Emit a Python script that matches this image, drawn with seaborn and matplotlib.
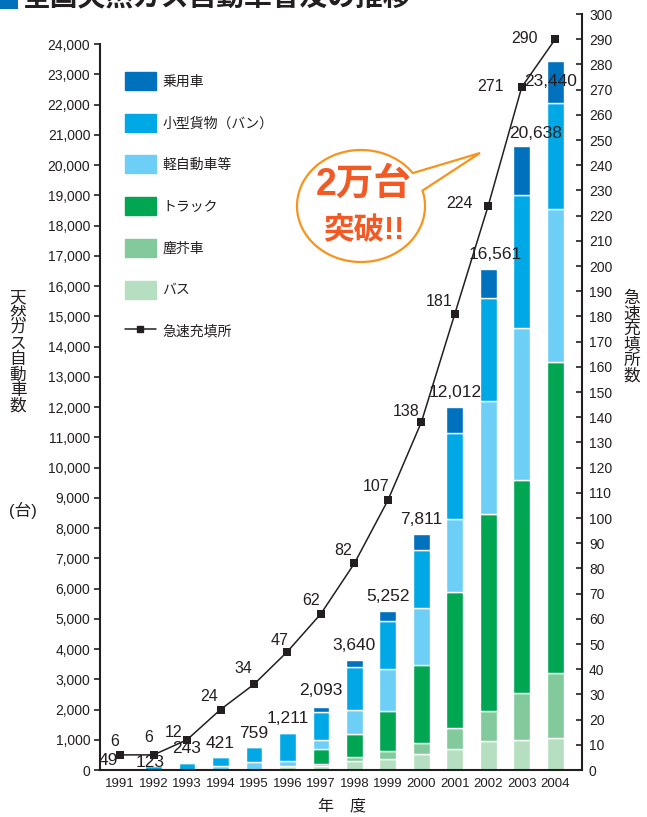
import numpy as np
import seaborn as sns
import matplotlib.pyplot as plt
from matplotlib.patches import Patch, Polygon, Rectangle
from matplotlib.lines import Line2D

# データ（年度別 天然ガス自動車台数・急速充填所数）
years = [str(y) for y in range(1991, 2005)]
bus = [0, 0, 0, 0, 0, 140, 119, 296, 353, 528, 700, 950, 1000, 1050]
garbage = [0, 0, 0, 0, 0, 0, 86, 137, 265, 371, 700, 990, 1560, 2170]
truck = [0, 0, 0, 0, 0, 0, 496, 751, 1324, 2562, 4500, 6510, 7030, 10260]
light = [0, 0, 0, 144, 258, 153, 291, 785, 1390, 1888, 2400, 3750, 5040, 5080]
van = [49, 123, 243, 277, 501, 918, 939, 1432, 1589, 1922, 2840, 3420, 4380, 3500]
car = [0, 0, 0, 0, 0, 0, 162, 239, 331, 540, 872, 941, 1628, 1380]
totals = [49, 123, 243, 421, 759, 1211, 2093, 3640, 5252, 7811, 12012, 16561, 20638, 23440]
stations = [6, 6, 12, 24, 34, 47, 62, 82, 107, 138, 181, 224, 271, 290]

W, H = 647, 817
dark = "#231f20"

sns.set_style("white")
plt.rcParams['font.family'] = ['Liberation Sans', 'Noto Sans CJK JP']

fig = plt.figure(figsize=(W / 100, H / 100), dpi=100)
ax = fig.add_axes([100 / W, 1 - 770 / H, 482 / W, 756 / H])

layers = [
    ("バス", bus, "#b5dfc0"),
    ("塵芥車", garbage, "#82ca9c"),
    ("トラック", truck, "#00a651"),
    ("軽自動車等", light, "#6dcff6"),
    ("小型貨物（バン）", van, "#00a9e6"),
    ("乗用車", car, "#0071bc"),
]
bottom = np.zeros(len(years))
for name, vals, col in layers:
    sns.barplot(x=years, y=vals, bottom=bottom, color=col, width=0.5,
                saturation=1, errorbar=None, ax=ax)
    bottom = bottom + np.array(vals)

# 台数ラベル
bar_off = [(-12, 8), (-3, 4), (0, 14), (0, 14), (0, 14), (0, 15), (0, 16),
           (0, 14), (0, 15), (0, 14), (0, 14), (7, 15), (14, 12), (-5, -20)]
for i, t in enumerate(totals):
    ax.annotate(f"{t:,}", (i, t), xytext=bar_off[i], textcoords='offset pixels',
                ha='center', va='center', fontsize=12.5, color=dark)

ax2 = ax.twinx()
sns.lineplot(x=np.arange(len(years)), y=stations, ax=ax2, color=dark,
             marker='s', markersize=6, markeredgewidth=0, lw=1.1)

line_off = [(-5, 13), (-5, 17), (-13, 7), (-11, 13), (-11, 16), (-8, 11),
            (-10, 13), (-11, 13), (-12, 14), (-15, 11), (-16, 12), (-29, 2),
            (-31, 1), (-31, 1)]
for i, s in enumerate(stations):
    ax2.annotate(str(s), (i, s), xytext=line_off[i], textcoords='offset pixels',
                 ha='center', va='center', fontsize=11.5, color=dark)

# 軸
ax.set_xlim(-0.6, 13.8)
ax.set_ylim(0, 25000)
ax2.set_ylim(0, 300)
ax.set_xlabel("")
ax.set_ylabel("")

yt = list(range(0, 24001, 1000))
ax.set_yticks(yt, [f"{v:,}" for v in yt])
ax.tick_params(axis='y', direction='out', length=4, width=1.2, labelsize=10,
               pad=3, colors=dark)
ax.set_xticks(range(len(years)), years)
ax.tick_params(axis='x', which='major', length=0, pad=6, labelsize=9.5, colors=dark)
ax.set_xticks(np.arange(0.5, 13, 1), minor=True)
ax.tick_params(axis='x', which='minor', direction='in', length=5, width=1.2, color=dark)

ax2.set_yticks(range(0, 301, 10))
ax2.tick_params(axis='y', direction='in', length=4, width=1.2, labelsize=10,
                pad=5, colors=dark)

for sp in ["top", "right"]:
    ax.spines[sp].set_visible(False)
for sp in ["top", "left", "bottom"]:
    ax2.spines[sp].set_visible(False)
ax.spines["left"].set_bounds(0, 24000)
for sp in [ax.spines["left"], ax.spines["bottom"], ax2.spines["right"]]:
    sp.set_linewidth(1.5)
    sp.set_color(dark)

# 凡例
handles = [Patch(color=c, label=n) for n, v, c in layers[::-1]]
handles.append(Line2D([], [], color=dark, marker='s', markersize=5, lw=1.1,
                      label="急速充填所"))
leg = ax2.legend(handles=handles, loc='upper left',
                 bbox_to_anchor=(125 / W, 1 - 72 / H), bbox_transform=fig.transFigure,
                 fontsize=10, handlelength=2.2, handleheight=1.6, labelspacing=1.72,
                 handletextpad=0.5, frameon=False, borderpad=0, borderaxespad=0)
for t in leg.get_texts():
    t.set_color(dark)

# 軸ラベル
fig.text(18 / W, 1 - 352 / H, "天\n然\nガ\nス\n自\n動\n車\n数", fontsize=12,
         ha='center', va='center', linespacing=1.02, color=dark)
fig.text(23 / W, 1 - 510 / H, "(台)", fontsize=12, ha='center', va='center', color=dark)
fig.text(632 / W, 1 - 337 / H, "急\n速\n充\n填\n所\n数", fontsize=12,
         ha='center', va='center', linespacing=1.02, color=dark)
fig.text(342 / W, 1 - 806 / H, "年　度", fontsize=11.5, ha='center', va='center', color=dark)

# 吹き出し
cx, cy, rx, ry = 361, 206, 64, 56
t = np.linspace(np.deg2rad(36), np.deg2rad(376), 200)
px = np.r_[cx + rx * np.cos(t), 480]
py = np.r_[cy - ry * np.sin(t), 153]
pts = np.column_stack([px / W, 1 - py / H])
fig.patches.append(Polygon(pts, closed=True, transform=fig.transFigure,
                           fc='white', ec='#f7941d', lw=1.6, zorder=5))
fig.text(364 / W, 1 - 185 / H, "2万台", fontsize=27, weight='bold', color='#f15a24',
         ha='center', va='center', zorder=6)
fig.text(364 / W, 1 - 231 / H, "突破!!", fontsize=22, weight='bold', color='#f15a24',
         ha='center', va='center', zorder=6)

# タイトル（上端で切れている）
fig.patches.append(Rectangle((0, 1 - 9 / H), 18 / W, 20 / H, transform=fig.transFigure,
                             fc='#0072bc', ec='none', zorder=5))
fig.text(22 / W, 1 + 2 / H, "全国天然ガス自動車普及の推移", fontsize=20, weight='bold',
         va='center', ha='left', color=dark)

fig.savefig("out.png", dpi=100)
